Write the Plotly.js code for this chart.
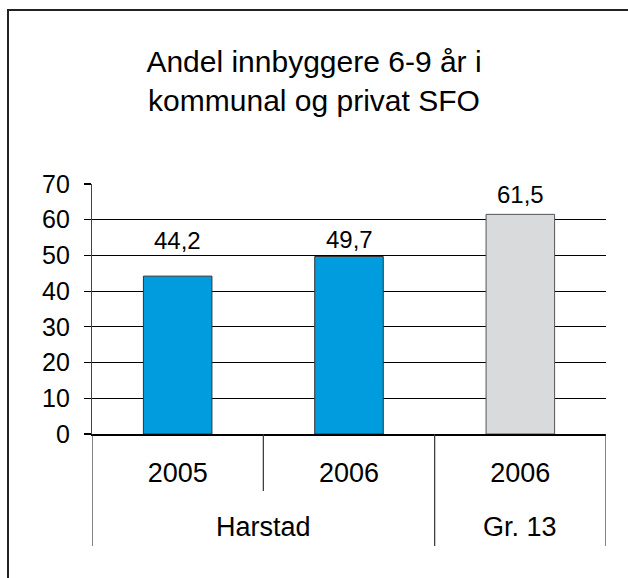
<!DOCTYPE html>
<html>
<head>
<meta charset="utf-8">
<script src="https://cdn.plot.ly/plotly-3.0.1.min.js"></script>
<style>
  html, body { margin: 0; padding: 0; background: #fff; }
  #frame { position: absolute; left: 7px; top: 9px; width: 700px; height: 700px;
           border-left: 2px solid #222; border-top: 2px solid #222; }
  #chart { position: absolute; left: 0; top: 0; width: 628px; height: 578px; }
</style>
</head>
<body>
<div id="frame"></div>
<div id="chart"></div>
<script>
// ---- data ----
const titleText = "Andel innbyggere 6-9 år i<br>kommunal og privat SFO";
const categories = ["2005", "2006", "2006"];
const groups = ["Harstad", "Harstad", "Gr. 13"];
const values = [44.2, 49.7, 61.5];
const yTicks = [0, 10, 20, 30, 40, 50, 60, 70];
const gridTicks = [10, 20, 30, 40, 50, 60];

// ---- style ----
const barColors = ["#009CDE", "#009CDE", "#D9DADB"];
const barLines = ["#333333", "#333333", "#555555"];
const labelShift = [36, 17, 20];
const FONT = "Liberation Sans, Arial, Helvetica, sans-serif";

const idx = categories.map((_, i) => i);
const fmt = v => v.toFixed(1).replace(".", ",");

const traces = [{
  type: "bar",
  x: idx,
  y: values,
  width: 0.4,
  marker: { color: barColors, line: { color: barLines, width: 1 } },
  hoverinfo: "skip",
  xaxis: "x", yaxis: "y"
}];

// group boundaries
const groupNames = [];
const groupSpans = [];
groups.forEach((g, i) => {
  if (!groupNames.length || groupNames[groupNames.length - 1] !== g) {
    groupNames.push(g); groupSpans.push([i, i]);
  } else {
    groupSpans[groupSpans.length - 1][1] = i;
  }
});

const shapes = [];
const plotH = 578 - 184 - 144;
const longDrop = -(546 - 434) / plotH;
const shortDrop = -(491 - 434) / plotH;
// outer/group dividers
const longEdges = [groupSpans[0][0] - 0.5].concat(groupSpans.map(s => s[1] + 0.5));
longEdges.forEach(x => shapes.push({
  type: "line", xref: "x", yref: "paper", x0: x, x1: x, y0: 0, y1: longDrop,
  line: { color: "#333", width: 1.2 }
}));
// inner dividers within groups
groupSpans.forEach(s => {
  for (let i = s[0]; i < s[1]; i++) {
    shapes.push({ type: "line", xref: "x", yref: "paper", x0: i + 0.5, x1: i + 0.5,
      y0: 0, y1: shortDrop, line: { color: "#333", width: 1.2 } });
  }
});

const annotations = [];
values.forEach((v, i) => annotations.push({
  x: i, y: v, xref: "x", yref: "y", text: fmt(v), showarrow: false,
  yshift: labelShift[i], font: { family: FONT, size: 24, color: "#000" }
}));
groupNames.forEach((g, k) => annotations.push({
  x: (groupSpans[k][0] + groupSpans[k][1]) / 2, y: -(527 - 434) / plotH,
  xref: "x", yref: "paper", yanchor: "middle", text: g, showarrow: false,
  font: { family: FONT, size: 27, color: "#000" }
}));

const layout = {
  width: 628, height: 578,
  margin: { l: 92, r: 22, t: 184, b: 144, pad: 0 },
  paper_bgcolor: "rgba(0,0,0,0)",
  plot_bgcolor: "rgba(0,0,0,0)",
  showlegend: false,
  font: { family: FONT, color: "#000" },
  title: {
    text: titleText,
    font: { family: FONT, size: 30, color: "#000" },
    x: 0.5, xref: "container", xanchor: "center",
    y: 1 - 72 / 578, yref: "container", yanchor: "top"
  },
  xaxis: {
    range: [-0.5, categories.length - 0.5],
    tickvals: idx, ticktext: categories,
    ticks: "", showgrid: false, zeroline: false,
    showline: true, linecolor: "#000", linewidth: 1.5,
    tickfont: { family: FONT, size: 27, color: "#000" },
    ticklabelstandoff: 14,
    fixedrange: true
  },
  yaxis: {
    range: [0, 70],
    tickvals: yTicks, ticktext: yTicks.map(String),
    ticks: "outside", ticklen: 7, tickwidth: 1.2, tickcolor: "#000",
    showgrid: false, zeroline: false,
    showline: true, linecolor: "#444", linewidth: 1.2,
    tickfont: { family: FONT, size: 25, color: "#000" },
    ticklabelstandoff: 9,
    fixedrange: true
  },
  yaxis2: {
    overlaying: "y", matches: "y", range: [0, 70],
    tickvals: gridTicks, showticklabels: false, ticks: "",
    showgrid: true, gridcolor: "#000", gridwidth: 1.2,
    zeroline: false, showline: false, fixedrange: true
  },
  shapes: shapes,
  annotations: annotations
};

// empty trace so the grid axis is drawn
traces.push({ type: "scatter", x: [], y: [], xaxis: "x", yaxis: "y2", hoverinfo: "skip" });

Plotly.newPlot("chart", traces, layout, { displayModeBar: false, staticPlot: true });
</script>
</body>
</html>
